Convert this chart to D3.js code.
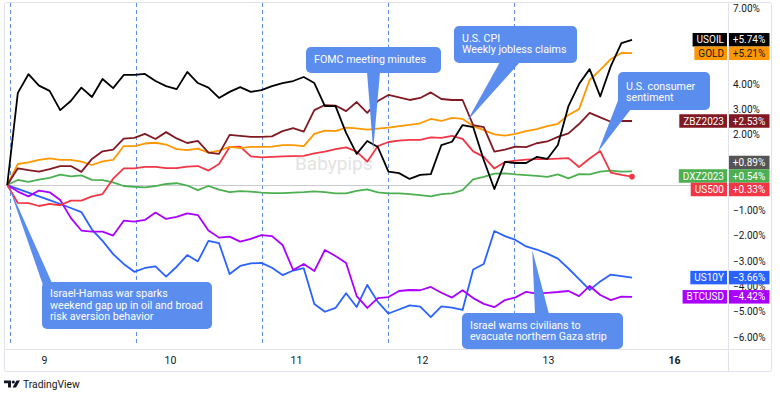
<!DOCTYPE html>
<html><head><meta charset="utf-8">
<script src="https://cdn.jsdelivr.net/npm/d3@7"></script>
<style>body{margin:0;background:#fff;}svg{display:block;font-family:Roboto,"Noto Sans",sans-serif;}</style>
</head><body><svg id="c" width="780" height="398"></svg>
<script>
// ---- data (percent change), sampled every ~2 trading hours from the gap open ----
const seriesNames = ["USOIL","GOLD","ZBZ2023","DXZ2023","US500","US10Y","BTCUSD"];
const seriesColors = ["#000000","#ff9800","#801922","#4caf50","#f23645","#2962ff","#aa00ff"];
const USOIL = [0,3.64,4.38,3.93,3.72,2.96,3.32,3.85,3.48,4.19,
  3.83,4.35,4.35,4.39,4.11,3.91,3.79,4.47,4.03,3.85,
  3.44,3.68,3.87,3.68,3.75,3.91,4.03,4.11,4.27,4.03,
  3.12,3.12,2.06,1.23,1.74,1.50,0.53,0.47,0.24,0.40,
  0.43,1.58,1.71,2.37,2.29,0.99,-0.16,0.91,0.87,0.87,
  1.11,1.03,1.58,3.12,3.99,4.58,3.50,4.70,5.61,5.74];
const GOLD = [0,0.83,0.89,0.99,1.05,0.99,0.99,0.92,0.79,0.93,
  0.99,1.54,1.54,1.64,1.67,1.60,1.42,1.38,1.44,1.28,
  1.36,1.51,1.46,1.51,1.51,1.52,1.58,1.58,1.54,2.02,
  2.15,2.13,2.27,2.24,2.19,2.23,2.27,2.33,2.38,2.44,
  2.61,2.53,2.65,2.61,2.33,2.17,2.00,1.95,2.02,2.13,
  2.21,2.33,2.42,2.77,3.00,4.15,4.55,4.98,5.22,5.21];
const ZBZ2023 = [0,0.66,0.59,0.53,0.63,0.75,0.75,0.52,1.03,1.33,
  1.40,1.83,1.86,2.02,1.82,2.09,1.84,1.66,1.74,1.28,
  1.23,1.98,1.94,1.90,1.90,1.92,2.13,2.25,2.11,2.96,
  3.16,3.14,2.92,3.28,2.85,3.32,3.56,3.46,3.36,3.44,
  3.66,3.40,3.36,3.36,2.37,2.29,1.32,1.40,1.52,1.50,
  1.65,1.72,1.90,2.04,2.41,2.85,2.67,2.50,2.53,2.53];
const DXZ2023 = [0,0.20,0.12,0.21,0.28,0.41,0.34,0.38,0.20,0.19,
  0.10,-0.04,-0.07,-0.09,-0.04,0.04,0.07,-0.02,-0.20,-0.04,
  -0.18,-0.28,-0.24,-0.26,-0.30,-0.32,-0.32,-0.30,-0.28,-0.25,
  -0.28,-0.33,-0.33,-0.23,-0.17,-0.29,-0.33,-0.33,-0.36,-0.40,
  -0.45,-0.36,-0.33,-0.20,0.22,0.32,0.45,0.46,0.42,0.39,
  0.36,0.32,0.42,0.26,0.43,0.42,0.53,0.57,0.53,0.54];
const US500 = [0,-0.71,-0.72,-0.83,-0.75,-0.80,-0.62,-0.62,-0.45,-0.36,
  0.25,0.66,0.66,0.72,0.72,0.67,0.67,0.73,0.75,0.57,
  0.83,1.50,1.52,1.13,1.09,1.11,1.13,1.14,1.15,1.25,
  1.32,1.42,1.49,1.32,0.92,1.54,1.70,1.75,1.78,1.78,
  1.88,1.86,1.94,1.82,1.33,1.11,0.65,0.91,0.96,1.00,
  1.02,1.02,1.04,1.06,0.71,1.05,1.34,0.49,0.40,0.33];
const US10Y = [0,-0.15,-0.30,-0.45,-0.60,-0.75,-0.91,-1.07,-1.76,-2.21,
  -2.73,-3.12,-3.43,-3.28,-3.22,-3.62,-3.23,-2.77,-3.02,-2.21,
  -2.30,-3.52,-3.20,-3.10,-3.08,-3.27,-3.56,-3.38,-3.29,-4.70,
  -5.01,-4.86,-4.28,-4.82,-3.95,-4.62,-5.08,-4.92,-4.76,-4.81,
  -5.22,-4.80,-4.85,-4.94,-3.34,-3.12,-1.82,-2.02,-2.17,-2.43,
  -2.55,-2.71,-2.91,-3.30,-3.72,-4.15,-3.81,-3.54,-3.60,-3.66];
const BTCUSD = [0,-0.26,-0.45,-0.22,-0.29,-0.59,-1.30,-1.80,-1.84,-1.84,
  -2.00,-1.41,-1.45,-1.38,-1.09,-1.34,-1.26,-1.12,-1.19,-1.80,
  -2.08,-2.04,-2.24,-2.13,-1.98,-2.02,-2.37,-3.36,-3.12,-3.40,
  -2.57,-2.81,-3.08,-4.39,-4.86,-4.47,-4.43,-4.19,-4.15,-4.16,
  -4.03,-4.26,-4.45,-4.16,-4.47,-4.70,-4.83,-4.55,-4.44,-4.22,
  -4.29,-4.26,-4.23,-4.19,-4.39,-3.99,-4.35,-4.55,-4.41,-4.42];
const seriesValues = [USOIL,GOLD,ZBZ2023,DXZ2023,US500,US10Y,BTCUSD];
const extraBadgeValues = [0.89];          // unnamed grey price label
const dayTickHours = [0,24,48,72,96,120];
const dayTickLabels = ["9","10","11","12","13","16"];
const sessionHours = [-6.5,17.5,41.5,65.5,89.5];
const yTickValues = [-6,-5,-4,-3,-2,-1,0,1,2,3,4,5,6,7];
// annotations: text lines and anchor (hour, percent)
const notes = [
  {lines:["Israel-Hamas war sparks","weekend gap up in oil and broad","risk aversion behavior"], at:[-6.8,0]},
  {lines:["FOMC meeting minutes"], at:[62.7,1.38]},
  {lines:["U.S. CPI","Weekly jobless claims"], at:[80.6,2.53]},
  {lines:["U.S. consumer","sentiment"], at:[105.5,1.30]},
  {lines:["Israel warns civilians to","evacuate northern Gaza strip"], at:[93,-2.57]}
];

// ---- layout ----
const svg = d3.select("#c");
const PL=5, PR=728, PT=3, PB=349;
const hours = d3.range(USOIL.length).map(i => -7 + i*119/(USOIL.length-1));
const x = d3.scaleLinear().domain([0,120]).range([44,674]);
const y = d3.scaleLinear().domain([0,7]).range([185,7.9]);

svg.append("defs").append("clipPath").attr("id","pc")
  .append("rect").attr("x",PL).attr("y",PT).attr("width",PR-PL).attr("height",PB-PT);

// frame
const frame = svg.append("g").attr("stroke","#e0e3eb").attr("fill","none");
frame.append("rect").attr("x",4.5).attr("y",2.5).attr("width",767).attr("height",369).attr("rx",2);
frame.append("line").attr("x1",4.5).attr("x2",771.5).attr("y1",349.5).attr("y2",349.5);
frame.append("line").attr("x1",728.5).attr("x2",728.5).attr("y1",2.5).attr("y2",371.5);

// session separators
svg.append("g").selectAll("line").data(sessionHours).join("line")
  .attr("x1",d=>Math.round(x(d))+0.5).attr("x2",d=>Math.round(x(d))+0.5)
  .attr("y1",PT).attr("y2",PB-3)
  .attr("stroke","#5b8def").attr("stroke-width",1).attr("stroke-dasharray","4,3");

// watermark
svg.append("text").attr("x",295).attr("y",170).attr("font-size",19).attr("fill","#e3e3e3").text("Babypips");

// zero line
svg.append("line").attr("x1",PL).attr("x2",PR).attr("y1",Math.round(y(0))+0.5).attr("y2",Math.round(y(0))+0.5)
  .attr("stroke","#c9cbd1");

// x axis labels
const xa = svg.append("g").attr("transform",`translate(0,${PB})`)
  .call(d3.axisBottom(x).tickValues(dayTickHours).tickFormat((d,i)=>dayTickLabels[i]).tickSize(0).tickPadding(8));
xa.select(".domain").remove();
xa.selectAll("text").attr("font-size",10.5).attr("fill","#131722").attr("font-family","Roboto")
  .attr("font-weight",(d,i)=>dayTickLabels[i]==="16"?"bold":"normal");

// badges layout (computed first so covered tick labels can be hidden)
const badgeH = 13.5;
let badges = seriesNames.map((nm,k)=>({name:nm, value:seriesValues[k][seriesValues[k].length-1], color:seriesColors[k],
  tc: nm==="GOLD" ? "#131722" : "#ffffff"}));
extraBadgeValues.forEach(v=>badges.push({name:"", value:v, color:"#555555", tc:"#ffffff"}));
badges.forEach(b=>b.cy=y(b.value));
badges.sort((a,b)=>a.cy-b.cy);
for(let i=1;i<badges.length;i++){ if(badges[i].cy < badges[i-1].cy+badgeH) badges[i].cy = badges[i-1].cy+badgeH; }

// y axis labels (right); labels fully covered by a price badge are left out
const fmt = v => (v<0?"\u2212":"") + Math.abs(v).toFixed(2) + "%";
const visibleTicks = yTickValues.filter(v => !badges.some(b => Math.abs(b.cy - y(v)) < 8));
const ya = svg.append("g").attr("transform",`translate(${PR},0)`)
  .call(d3.axisRight(y).tickValues(visibleTicks).tickFormat(fmt).tickSize(0).tickPadding(5));
ya.select(".domain").remove();
ya.selectAll("text").attr("font-size",10).attr("fill","#131722").attr("font-family","Roboto");

// lines
const line = d3.line().x((d,i)=>x(hours[i])).y(d=>y(d));
const drawOrder = [5,6,3,4,1,2,0];
const lg = svg.append("g").attr("clip-path","url(#pc)");
drawOrder.forEach(k=>{
  lg.append("path").datum(seriesValues[k]).attr("d",line).attr("fill","none")
    .attr("stroke",seriesColors[k]).attr("stroke-width",1.8).attr("stroke-linejoin","round");
});
// end dot for US500
lg.append("circle").attr("cx",x(hours[hours.length-1])).attr("cy",y(US500[US500.length-1])).attr("r",2.8).attr("fill","#f23645");

// annotations
const boxColor = "#5b8def";
const lineGap = 11.5;
const boxes = [
  {x:42,y:282,w:170,h:47,tx:50,ty:297,base:[[44,288],[52,283]]},
  {x:306,y:47,w:135,h:26,tx:314,ty:63,base:[[367,72],[380,72]]},
  {x:454,y:26,w:123,h:37,tx:462,ty:41.5,base:[[500,62],[520,62]]},
  {x:618,y:72,w:92,h:38,tx:626,ty:89.5,base:[[619,98],[631,109]]},
  {x:462,y:313,w:161,h:36,tx:470,ty:328.5,base:[[535,314],[549,314]]}
];
const ag = svg.append("g");
notes.forEach((n,i)=>{
  const b = boxes[i];
  const tip = [x(n.at[0]), y(n.at[1])];
  ag.append("path").attr("d", d3.line()([tip, b.base[0], b.base[1]]) + "Z").attr("fill",boxColor);
  ag.append("rect").attr("x",b.x).attr("y",b.y).attr("width",b.w).attr("height",b.h).attr("rx",5).attr("fill",boxColor);
  const t = ag.append("text").attr("font-size",10.7).attr("fill","#ffffff").attr("font-family","Roboto");
  n.lines.forEach((s,j)=>t.append("tspan").attr("x",b.tx).attr("y",b.ty+j*lineGap).text(s));
});

// badges
const bg = svg.append("g").attr("font-family","Roboto").attr("font-size",10);
badges.forEach(b=>{
  const top = b.cy - badgeH/2;
  const vt = (b.value>0?"+":"\u2212") + Math.abs(b.value).toFixed(2) + "%";
  bg.append("rect").attr("x",729).attr("y",top).attr("width",40.5).attr("height",badgeH).attr("fill",b.color);
  bg.append("text").attr("x",749).attr("y",b.cy+3.6).attr("text-anchor","middle").attr("fill",b.tc).text(vt);
  if(b.name){
    const t = bg.append("text").attr("x",724).attr("y",b.cy+3.6).attr("text-anchor","end").attr("fill",b.tc).text(b.name);
    const w = t.node().getComputedTextLength();
    bg.insert("rect","text:last-child").attr("x",727-w-7).attr("y",top).attr("width",w+7).attr("height",badgeH).attr("fill",b.color);
    t.raise();
  }
});

// TradingView logo
const logo = svg.append("g").attr("fill","#131722");
logo.append("path").attr("d","M4 380.5h7v7h-3v-4.2h-4z");
logo.append("circle").attr("cx",13.3).attr("cy",382).attr("r",1.6);
logo.append("path").attr("d","M12.5 387.5l4-7h3.5l-4 7z");
svg.append("text").attr("x",23).attr("y",387.5).attr("font-size",10.3).attr("fill","#131722").attr("font-family","Roboto").text("TradingView");
</script></body></html>
